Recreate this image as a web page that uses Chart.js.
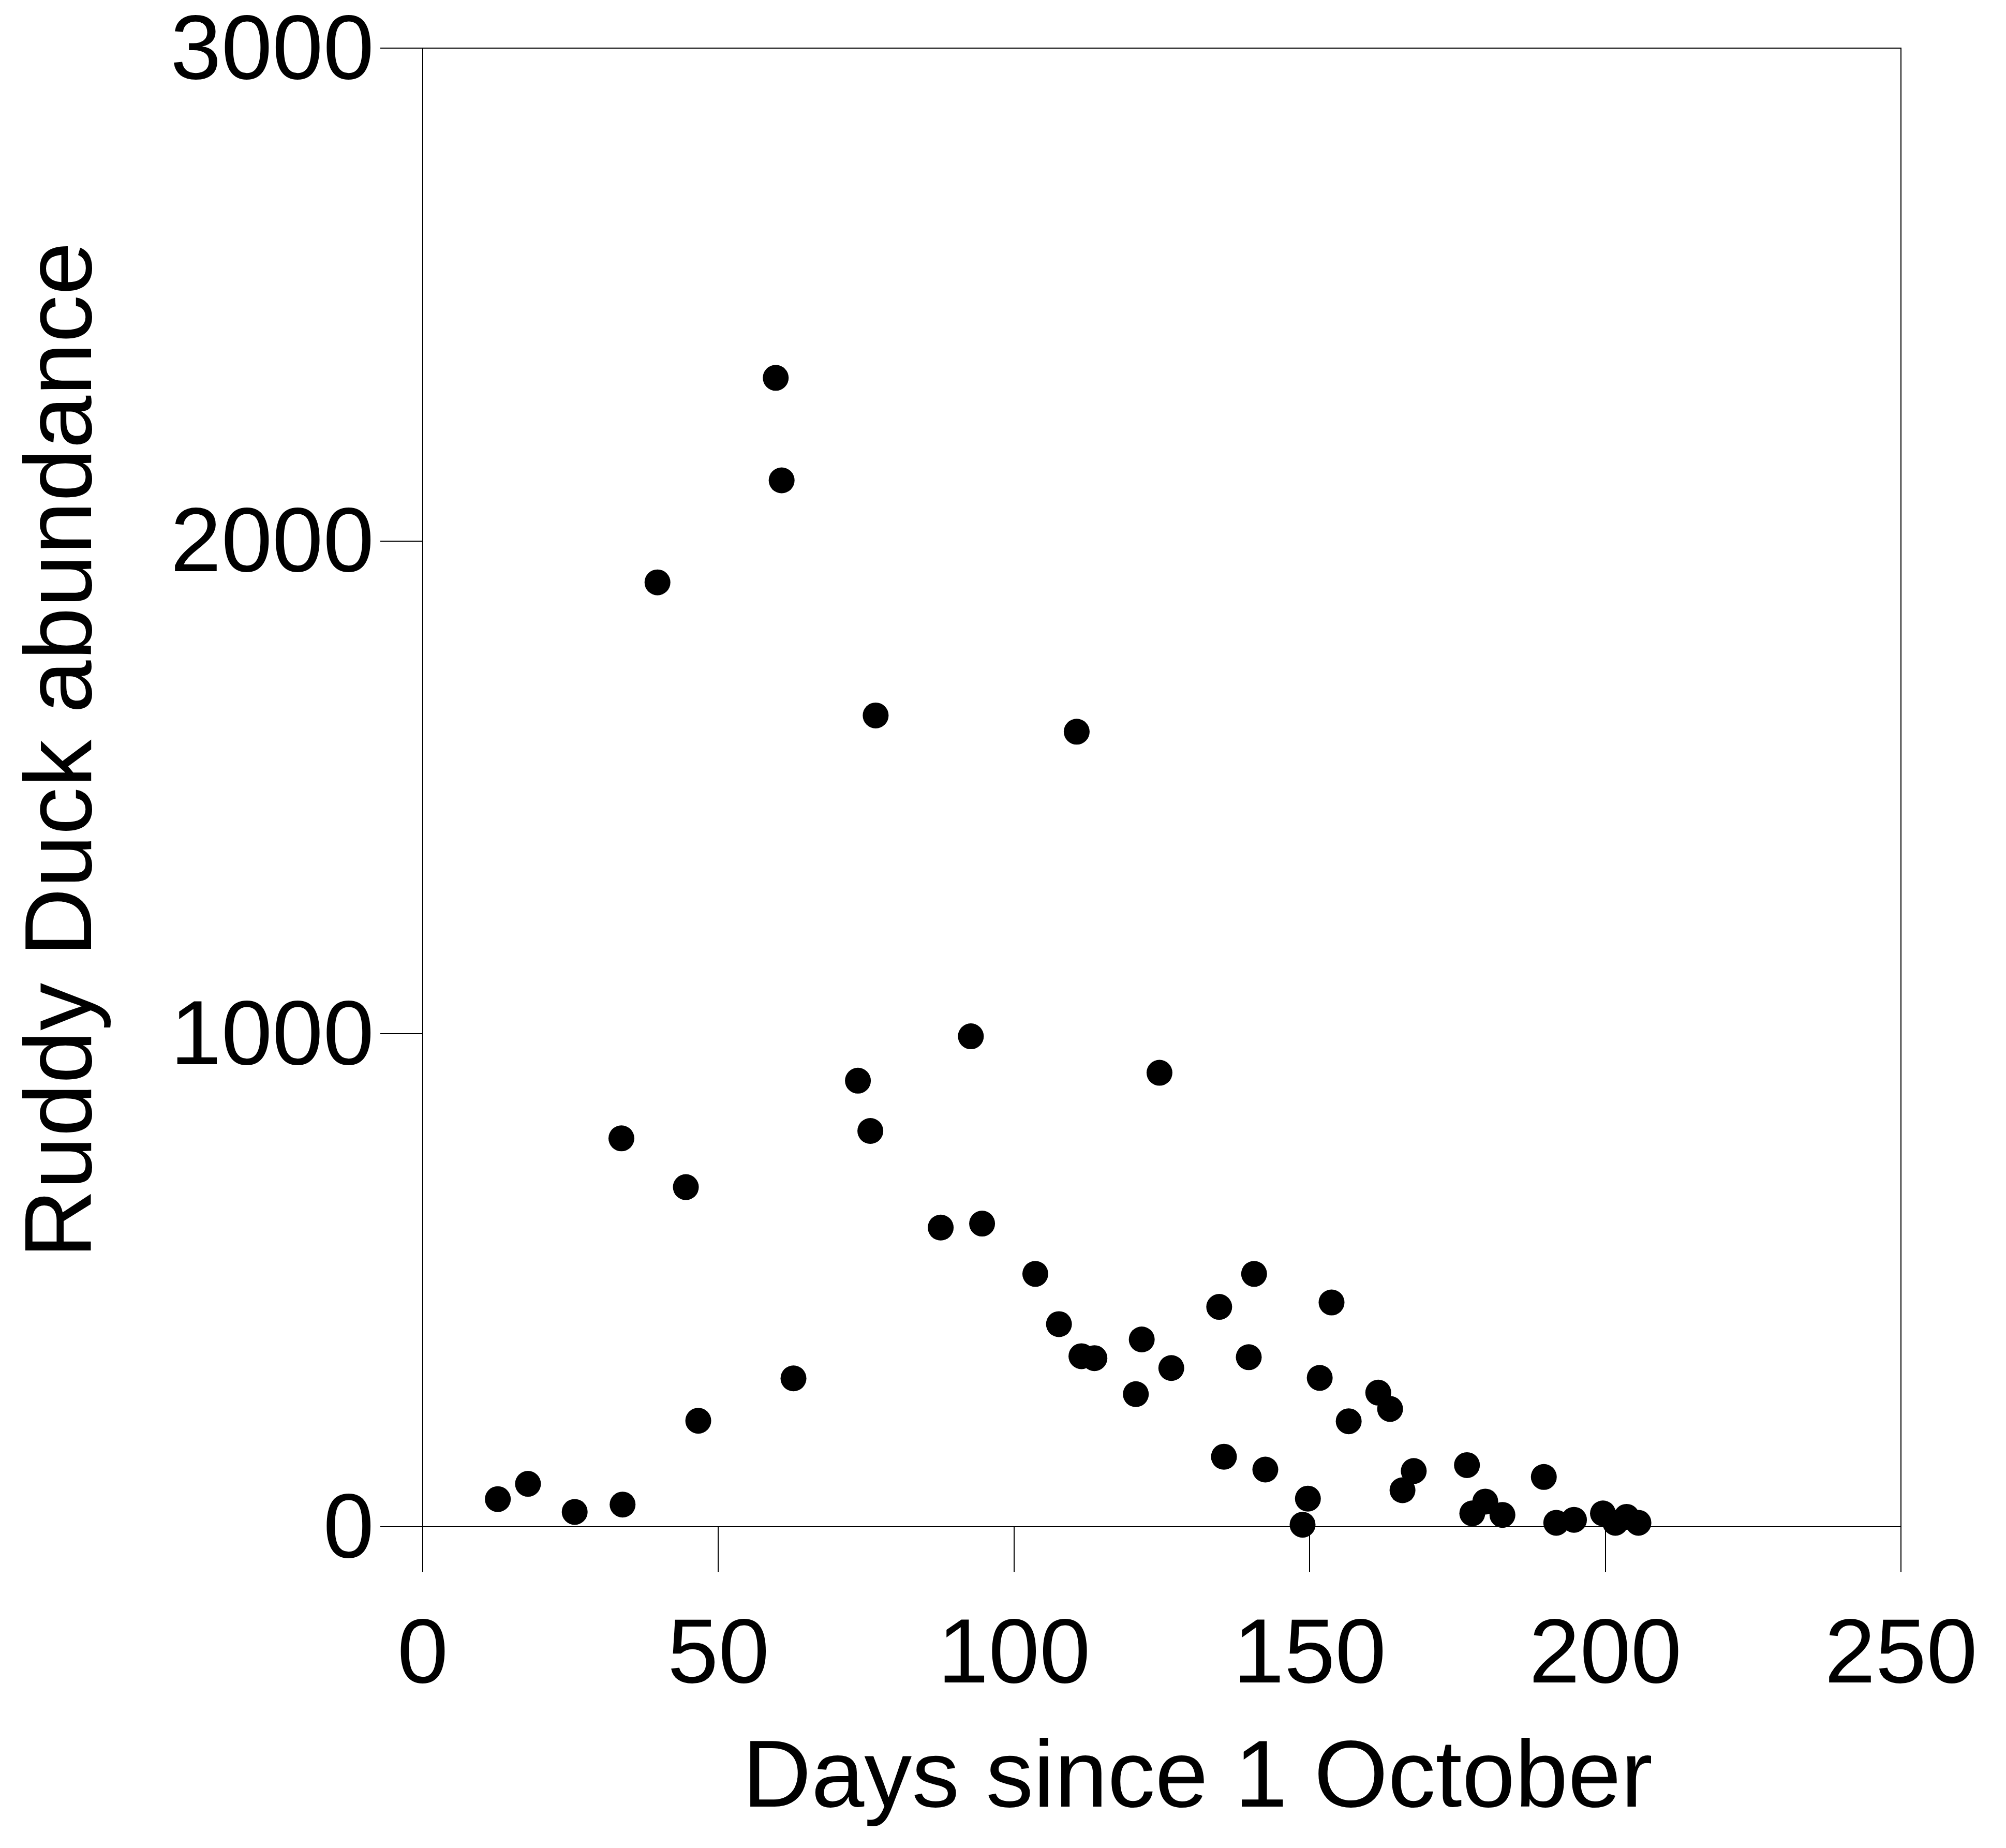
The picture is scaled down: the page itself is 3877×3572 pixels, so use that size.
<!DOCTYPE html>
<html>
<head>
<meta charset="utf-8">
<script src="https://cdn.jsdelivr.net/npm/chart.js@4.4.1/dist/chart.umd.min.js"></script>
<style>
  html, body { margin: 0; padding: 0; background: #fff; }
  #wrap { width: 3877px; height: 3572px; }
</style>
</head>
<body>
<div id="wrap"><canvas id="duckChart" width="3877" height="3572"></canvas></div>
<script>
// values
const days = [12.7, 17.8, 25.7, 33.8, 33.6, 39.7, 44.5, 46.6, 59.7, 60.7, 62.7, 73.6, 75.7, 76.6, 87.6, 92.7, 94.6,
  103.6, 107.6, 110.6, 111.4, 113.6, 120.6, 121.6, 124.6, 126.6, 134.7, 135.5, 139.7, 140.6, 142.5, 148.8, 149.7,
  151.7, 153.7, 156.6, 161.6, 163.6, 165.7, 167.6, 176.6, 177.5, 179.7, 182.6, 189.6, 191.7, 194.7, 199.6, 201.7,
  203.6, 205.6];
const abundance = [56, 87, 30, 45, 788, 1916, 689, 215, 2331, 2123, 301, 905, 803, 1646, 607, 995, 615,
  513, 411, 1613, 346, 342, 269, 380, 921, 322, 446, 142, 344, 513, 116, 4, 57,
  302, 455, 214, 272, 239, 74, 113, 125, 27, 51, 24, 101, 8, 14, 27, 8,
  20, 8];
const xTicks = [0, 50, 100, 150, 200, 250];
const yTicks = [0, 1000, 2000, 3000];
const xTitle = "Days since 1 October";
const yTitle = "Ruddy Duck abundance";

const FONT = "'Liberation Sans', Arial, sans-serif";
const tickFont = { family: FONT, size: 177, lineHeight: 1 };

// top + right edges of the box
const framePlugin = {
  id: 'frame',
  beforeDatasetsDraw(chart) {
    const { ctx, chartArea: a } = chart;
    ctx.save(); ctx.strokeStyle = '#000'; ctx.lineWidth = 2;
    ctx.beginPath(); ctx.moveTo(a.left, a.top); ctx.lineTo(a.right, a.top); ctx.lineTo(a.right, a.bottom); ctx.stroke();
    ctx.restore();
  }
};

// axis titles sit a bit off-centre in the original, so draw them here
const titlePlugin = {
  id: 'axisTitles',
  afterDraw(chart) {
    const { ctx, chartArea: a } = chart;
    ctx.save(); ctx.fillStyle = '#000'; ctx.font = `184px ${FONT}`; ctx.textAlign = 'center'; ctx.textBaseline = 'middle';
    ctx.fillText(xTitle, (a.left + a.right) / 2 + 69, 3441);
    ctx.translate(125, (a.top + a.bottom) / 2 - 72); ctx.rotate(-Math.PI / 2); ctx.fillText(yTitle, 0, 0);
    ctx.restore();
  }
};

const points = days.map((d, i) => ({ x: d, y: abundance[i] }));

new Chart(document.getElementById('duckChart'), {
  type: 'scatter',
  data: { datasets: [{ data: points, backgroundColor: '#000', borderWidth: 0, pointRadius: 25, pointHoverRadius: 25, clip: false }] },
  options: {
    responsive: false, devicePixelRatio: 1, animation: false,
    layout: { padding: { top: 93, right: 203, left: 0, bottom: 0 } },
    plugins: { legend: { display: false }, tooltip: { enabled: false } },
    scales: {
      x: {
        type: 'linear', min: xTicks[0], max: xTicks[xTicks.length - 1],
        afterBuildTicks: s => { s.ticks = xTicks.map(v => ({ value: v })); },
        afterFit: s => { s.height = 621; s.paddingLeft = 0; s.paddingRight = 0; },
        ticks: { font: tickFont, color: '#000', padding: 76, maxRotation: 0, callback: v => String(v) },
        grid: { drawOnChartArea: false, drawTicks: true, tickLength: 88, color: '#000', lineWidth: 2 },
        border: { display: true, color: '#000', width: 2 }
      },
      y: {
        type: 'linear', min: yTicks[0], max: yTicks[yTicks.length - 1],
        afterBuildTicks: s => { s.ticks = yTicks.map(v => ({ value: v })); },
        afterFit: s => { s.width = 817; s.paddingTop = 0; s.paddingBottom = 0; },
        ticks: { font: tickFont, color: '#000', padding: 12, labelOffset: 10, callback: v => String(v) },
        grid: { drawOnChartArea: false, drawTicks: true, tickLength: 82, color: '#000', lineWidth: 2 },
        border: { display: true, color: '#000', width: 2 }
      }
    }
  },
  plugins: [framePlugin, titlePlugin]
});
</script>
</body>
</html>
